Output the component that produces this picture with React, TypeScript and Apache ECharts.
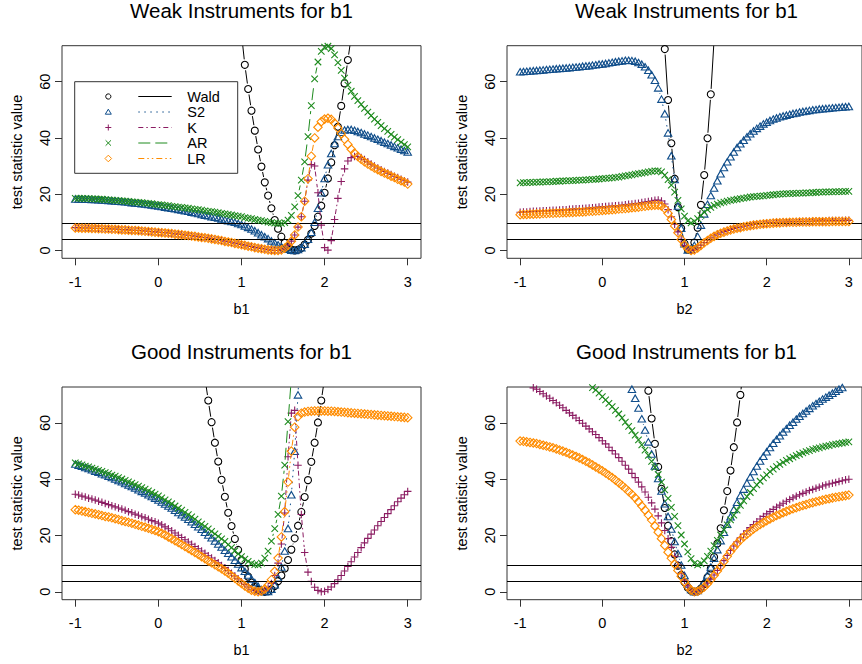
import React, { useEffect, useRef } from "react";
import * as echarts from "echarts";

// x grid (b values)
const X_GRID = [
  -1, -0.96, -0.92, -0.88, -0.84, -0.8, -0.76, -0.72, -0.68, -0.64,
  -0.6, -0.56, -0.52, -0.48, -0.44, -0.4, -0.36, -0.32, -0.28, -0.24,
  -0.2, -0.16, -0.12, -0.08, -0.04, 0, 0.04, 0.08, 0.12, 0.16,
  0.2, 0.24, 0.28, 0.32, 0.36, 0.4, 0.44, 0.48, 0.52, 0.56,
  0.6, 0.64, 0.68, 0.72, 0.76, 0.8, 0.84, 0.88, 0.92, 0.96,
  1, 1.04, 1.08, 1.12, 1.16, 1.2, 1.24, 1.28, 1.32, 1.36,
  1.4, 1.44, 1.48, 1.52, 1.56, 1.6, 1.64, 1.68, 1.72, 1.76,
  1.8, 1.84, 1.88, 1.92, 1.96, 2, 2.04, 2.08, 2.12, 2.16,
  2.2, 2.24, 2.28, 2.32, 2.36, 2.4, 2.44, 2.48, 2.52, 2.56,
  2.6, 2.64, 2.68, 2.72, 2.76, 2.8, 2.84, 2.88, 2.92, 2.96,
  3,
];

const X_TICKS = [-1, 0, 1, 2, 3];
const Y_TICKS = [0, 20, 40, 60];
const CRIT_LINES = [3.84, 9.49];
const SERIES_NAMES = ["Wald", "S2", "K", "AR", "LR"];
const TITLES = [
  "Weak Instruments for b1",
  "Weak Instruments for b1",
  "Good Instruments for b1",
  "Good Instruments for b1",
];
const X_NAMES = ["b1", "b2", "b1", "b2"];
const Y_NAME = "test statistic value";

const N = null;

// ---------- Panel 1: weak, b1 ----------
const W1_WALD = [
  N, N, N, N, N, N, N, N, N, N,
  N, N, N, N, N, N, N, N, N, N,
  N, N, N, N, N, N, N, N, N, N,
  N, N, N, N, N, N, N, N, N, N,
  N, N, N, N, N, N, N, N, N, N,
  77, 66, 57.4, 49.7, 42.6, 35.9, 29.8, 24.2, 19.5, 15.0,
  10.8, 7.7, 4.9, 2.7, 1.2, 0.3, 0.0, 0.2, 0.9, 2.1,
  3.8, 6.0, 8.7, 12.0, 15.9, 20.5, 25.6, 31.3, 37.4, 44.0,
  51.4, 59.4, 67.7, 76, N, N, N, N, N, N,
  N, N, N, N, N, N, N, N, N, N,
  N,
];
const W1_S2 = [
  18.3, 18.3, 18.3, 18.2, 18.2, 18.1, 18.1, 18.0, 17.9, 17.9,
  17.8, 17.7, 17.6, 17.5, 17.4, 17.3, 17.2, 17.0, 16.9, 16.8,
  16.6, 16.5, 16.3, 16.2, 16.0, 15.8, 15.6, 15.4, 15.2, 15.0,
  14.8, 14.6, 14.4, 14.1, 13.9, 13.6, 13.4, 13.1, 12.8, 12.5,
  12.3, 12.0, 11.8, 11.5, 11.2, 10.9, 10.6, 10.3, 10.0, 9.6,
  9.2, 8.7, 8.2, 7.6, 7.0, 6.3, 5.6, 4.9, 4.2, 3.4,
  2.7, 2.0, 1.4, 0.8, 0.4, 0.1, 0.0, 0.3, 1.0, 2.2,
  4.0, 6.5, 10.0, 15.0, 20.5, 25.6, 30.5, 34.5, 38.0, 40.5,
  42.0, 42.8, 43.0, 43.0, 42.7, 42.3, 41.9, 41.4, 41.0, 40.5,
  40.0, 39.5, 39.0, 38.5, 38.0, 37.5, 37.0, 36.5, 36.0, 35.5,
  35.0,
];
const W1_K = [
  8.1, 8.1, 8.0, 8.0, 8.0, 7.9, 7.9, 7.8, 7.8, 7.7,
  7.7, 7.6, 7.6, 7.5, 7.4, 7.4, 7.3, 7.2, 7.2, 7.1,
  7.0, 6.9, 6.8, 6.7, 6.6, 6.5, 6.4, 6.3, 6.2, 6.1,
  5.9, 5.8, 5.7, 5.5, 5.4, 5.2, 5.1, 4.9, 4.7, 4.6,
  4.4, 4.2, 4.0, 3.8, 3.6, 3.3, 3.1, 2.9, 2.6, 2.4,
  2.1, 1.9, 1.6, 1.4, 1.1, 0.9, 0.7, 0.5, 0.3, 0.1,
  0.0, 0.0, 0.2, 0.8, 1.8, 3.3, 5.5, 8.3, 12.0, 17.5,
  25.0, 30.5, 30.0, 20.5, 9.0, 1.0, 0.1, 3.5, 11.0, 18.5,
  24.5, 29.0, 31.8, 33.0, 33.4, 33.4, 33.0, 32.3, 31.5, 30.7,
  30.0, 29.3, 28.7, 28.1, 27.5, 27.0, 26.4, 25.9, 25.3, 24.8,
  24.3,
];
const W1_AR = [
  18.5, 18.5, 18.5, 18.4, 18.4, 18.3, 18.3, 18.2, 18.2, 18.1,
  18.0, 17.9, 17.8, 17.7, 17.6, 17.5, 17.4, 17.3, 17.2, 17.1,
  17.0, 16.8, 16.7, 16.6, 16.4, 16.3, 16.2, 16.0, 15.9, 15.7,
  15.6, 15.4, 15.3, 15.1, 15.0, 14.8, 14.6, 14.5, 14.3, 14.1,
  13.9, 13.8, 13.6, 13.4, 13.2, 13.0, 12.8, 12.6, 12.4, 12.2,
  12.0, 11.7, 11.5, 11.3, 11.0, 10.8, 10.6, 10.3, 10.1, 9.9,
  9.7, 9.6, 9.6, 9.9, 10.8, 12.5, 15.5, 19.5, 25.0, 31.5,
  40.5, 51.5, 61.0, 67.0, 70.8, 72.3, 72.6, 71.8, 69.5, 66.8,
  64.0, 61.3, 58.8, 56.6, 54.8, 53.3, 51.9, 50.5, 49.2, 47.9,
  46.7, 45.5, 44.4, 43.3, 42.3, 41.3, 40.3, 39.4, 38.5, 37.6,
  36.8,
];
const W1_LR = [
  8.0, 8.0, 7.9, 7.9, 7.9, 7.8, 7.8, 7.7, 7.7, 7.6,
  7.6, 7.5, 7.5, 7.4, 7.3, 7.3, 7.2, 7.1, 7.1, 7.0,
  6.9, 6.8, 6.7, 6.6, 6.5, 6.4, 6.3, 6.2, 6.1, 6.0,
  5.8, 5.7, 5.6, 5.4, 5.3, 5.1, 5.0, 4.8, 4.6, 4.5,
  4.3, 4.1, 3.9, 3.7, 3.5, 3.2, 3.0, 2.8, 2.5, 2.3,
  2.0, 1.8, 1.5, 1.3, 1.0, 0.8, 0.6, 0.4, 0.2, 0.1,
  0.0, 0.0, 0.2, 0.8, 1.8, 3.3, 5.5, 8.3, 12.0, 17.5,
  25.5, 33.5, 40.0, 43.8, 45.8, 46.7, 47.0, 46.6, 45.3, 43.5,
  41.5, 39.5, 37.7, 36.0, 34.6, 33.4, 32.4, 31.5, 30.7, 30.0,
  29.3, 28.7, 28.1, 27.5, 27.0, 26.4, 25.9, 25.3, 24.8, 24.3,
  23.6,
];

// ---------- Panel 2: weak, b2 ----------
const W2_WALD = [
  N, N, N, N, N, N, N, N, N, N,
  N, N, N, N, N, N, N, N, N, N,
  N, N, N, N, N, N, N, N, N, N,
  N, N, N, N, N, N, N, N, N, N,
  N, N, N, 92, 71.6, 53.5, 38.1, 25.5, 15.4, 7.9,
  2.5, 0.3, 0.3, 2.8, 8.1, 16.2, 26.8, 39.9, 55.5, 75,
  N, N, N, N, N, N, N, N, N, N,
  N, N, N, N, N, N, N, N, N, N,
  N, N, N, N, N, N, N, N, N, N,
  N, N, N, N, N, N, N, N, N, N,
  N,
];
const W2_S2 = [
  63.5, 63.6, 63.7, 63.8, 63.9, 64.0, 64.1, 64.2, 64.3, 64.4,
  64.5, 64.6, 64.7, 64.8, 64.9, 65.0, 65.1, 65.2, 65.3, 65.5,
  65.6, 65.7, 65.9, 66.0, 66.2, 66.3, 66.5, 66.7, 66.9, 67.1,
  67.3, 67.4, 67.6, 67.6, 67.5, 67.3, 66.8, 66.2, 65.3, 64.1,
  62.5, 60.5, 57.8, 53.8, 48.6, 41.8, 33.7, 25.2, 15.8, 7.9,
  2.4, 0.2, 0.5, 1.8, 5.0, 9.0, 13.0, 16.4, 19.5, 22.2,
  24.8, 27.3, 29.5, 31.5, 33.3, 35.0, 36.6, 37.9, 39.2, 40.4,
  41.5, 42.5, 43.4, 44.2, 45.0, 45.6, 46.2, 46.7, 47.1, 47.5,
  47.8, 48.1, 48.4, 48.7, 48.9, 49.2, 49.4, 49.6, 49.8, 50.0,
  50.1, 50.3, 50.4, 50.5, 50.6, 50.7, 50.8, 50.9, 51.0, 51.1,
  51.2,
];
const W2_K = [
  13.6, 13.7, 13.7, 13.8, 13.9, 13.9, 14.0, 14.1, 14.1, 14.2,
  14.3, 14.3, 14.4, 14.5, 14.5, 14.6, 14.7, 14.8, 14.8, 14.9,
  15.0, 15.1, 15.2, 15.3, 15.4, 15.5, 15.6, 15.7, 15.8, 15.9,
  16.0, 16.1, 16.2, 16.4, 16.5, 16.7, 16.8, 17.0, 17.2, 17.4,
  17.6, 17.8, 17.9, 17.6, 16.5, 14.5, 12.0, 9.3, 6.6, 4.0,
  1.8, 0.5, 0.0, 0.3, 1.0, 1.9, 2.8, 3.7, 4.5, 5.2,
  5.8, 6.3, 6.7, 7.1, 7.5, 7.8, 8.1, 8.3, 8.6, 8.8,
  9.0, 9.2, 9.3, 9.5, 9.6, 9.7, 9.8, 9.9, 10.0, 10.0,
  10.1, 10.1, 10.2, 10.2, 10.3, 10.3, 10.3, 10.4, 10.4, 10.4,
  10.5, 10.5, 10.5, 10.5, 10.6, 10.6, 10.6, 10.6, 10.6, 10.7,
  10.7,
];
const W2_AR = [
  24.0, 24.1, 24.1, 24.2, 24.2, 24.3, 24.3, 24.4, 24.4, 24.5,
  24.5, 24.6, 24.6, 24.7, 24.7, 24.8, 24.8, 24.9, 25.0, 25.0,
  25.1, 25.2, 25.3, 25.3, 25.4, 25.5, 25.6, 25.7, 25.8, 26.0,
  26.1, 26.3, 26.5, 26.7, 26.9, 27.1, 27.3, 27.5, 27.7, 27.9,
  28.1, 28.3, 28.3, 27.9, 26.8, 25.2, 23.2, 20.7, 17.8, 14.8,
  12.2, 10.5, 9.8, 10.3, 11.3, 12.5, 13.6, 14.5, 15.3, 16.0,
  16.5, 16.9, 17.2, 17.5, 17.8, 18.0, 18.2, 18.4, 18.6, 18.8,
  19.0, 19.1, 19.2, 19.3, 19.4, 19.6, 19.7, 19.8, 19.9, 20.0,
  20.1, 20.2, 20.2, 20.3, 20.3, 20.4, 20.4, 20.5, 20.5, 20.6,
  20.6, 20.7, 20.7, 20.8, 20.8, 20.8, 20.9, 20.9, 20.9, 21.0,
  21.0,
];
const W2_LR = [
  12.7, 12.8, 12.8, 12.9, 12.9, 13.0, 13.0, 13.1, 13.1, 13.2,
  13.2, 13.3, 13.3, 13.4, 13.4, 13.5, 13.5, 13.6, 13.7, 13.7,
  13.8, 13.9, 13.9, 14.0, 14.1, 14.2, 14.3, 14.4, 14.5, 14.6,
  14.7, 14.8, 14.9, 15.0, 15.2, 15.3, 15.4, 15.6, 15.7, 15.9,
  16.0, 16.1, 16.1, 15.8, 14.8, 13.2, 11.0, 8.7, 6.3, 3.9,
  1.9, 0.6, 0.0, 0.2, 0.9, 1.8, 2.7, 3.5, 4.3, 5.0,
  5.6, 6.1, 6.5, 6.9, 7.3, 7.6, 7.9, 8.1, 8.4, 8.6,
  8.8, 9.0, 9.1, 9.3, 9.4, 9.5, 9.6, 9.7, 9.8, 9.8,
  9.9, 9.9, 10.0, 10.0, 10.0, 10.1, 10.1, 10.1, 10.1, 10.2,
  10.2, 10.2, 10.2, 10.2, 10.2, 10.3, 10.3, 10.3, 10.3, 10.3,
  10.3,
];

// ---------- Panel 3: good, b1 ----------
const G1_WALD = [
  N, N, N, N, N, N, N, N, N, N,
  N, N, N, N, N, N, N, N, N, N,
  N, N, N, N, N, N, N, N, N, N,
  N, N, N, N, N, N, N, N, N, 76,
  68.0, 60.3, 53.0, 46.3, 39.8, 33.8, 28.1, 23.4, 18.8, 14.9,
  11.3, 8.1, 5.4, 3.3, 1.7, 0.7, 0.2, 0.0, 0.2, 0.9,
  2.1, 3.8, 5.8, 8.3, 11.3, 15.0, 19.0, 23.5, 28.4, 33.7,
  39.7, 46.2, 53.0, 60.2, 68.0, 76, N, N, N, N,
  N, N, N, N, N, N, N, N, N, N,
  N, N, N, N, N, N, N, N, N, N,
  N,
];
const G1_S2 = [
  45.4, 45.0, 44.6, 44.2, 43.8, 43.4, 42.9, 42.5, 42.0, 41.6,
  41.1, 40.6, 40.1, 39.6, 39.1, 38.5, 38.0, 37.4, 36.9, 36.3,
  35.7, 35.1, 34.5, 33.9, 33.3, 32.6, 31.9, 31.2, 30.5, 29.8,
  29.0, 28.2, 27.4, 26.6, 25.8, 24.9, 24.0, 23.1, 22.2, 21.2,
  20.2, 19.2, 18.1, 17.0, 15.9, 14.8, 13.7, 12.5, 11.2, 9.9,
  8.6, 7.3, 6.0, 4.6, 3.3, 2.0, 0.8, 0.1, 0.1, 0.9,
  2.5, 5.0, 8.8, 14.5, 22.5, 34.5, 50.0, 70.0, 95, N,
  N, N, N, N, N, N, N, N, N, N,
  N, N, N, N, N, N, N, N, N, N,
  N, N, N, N, N, N, N, N, N, N,
  N,
];
const G1_K = [
  34.7, 34.4, 34.0, 33.7, 33.3, 33.0, 32.6, 32.2, 31.8, 31.4,
  31.0, 30.6, 30.2, 29.8, 29.4, 29.0, 28.5, 28.1, 27.6, 27.2,
  26.7, 26.3, 25.8, 25.3, 24.9, 24.4, 23.8, 23.1, 22.4, 21.7,
  20.9, 20.1, 19.3, 18.5, 17.7, 16.9, 16.1, 15.3, 14.5, 13.7,
  12.8, 12.0, 11.1, 10.3, 9.4, 8.6, 7.6, 6.6, 5.6, 4.6,
  3.6, 2.6, 1.7, 0.9, 0.4, 0.1, 0.1, 0.5, 1.4, 3.0,
  5.8, 10.2, 17.0, 28.0, 48.0, 63.5, 64.5, 45.0, 27.5, 14.0,
  7.0, 3.7, 1.6, 0.5, 0.0, 0.2, 0.8, 1.7, 2.9, 4.3,
  5.8, 7.4, 9.0, 10.7, 12.4, 14.0, 15.7, 17.4, 19.0, 20.5,
  22.0, 23.5, 25.0, 26.4, 27.8, 29.2, 30.6, 32.0, 33.3, 34.5,
  35.7,
];
const G1_AR = [
  45.8, 45.5, 45.1, 44.7, 44.4, 44.0, 43.6, 43.2, 42.8, 42.4,
  42.0, 41.5, 41.1, 40.6, 40.1, 39.6, 39.1, 38.6, 38.1, 37.6,
  37.0, 36.5, 35.9, 35.3, 34.7, 34.1, 33.4, 32.7, 32.0, 31.3,
  30.5, 29.7, 29.0, 28.2, 27.4, 26.6, 25.8, 24.9, 24.1, 23.3,
  22.4, 21.5, 20.6, 19.7, 18.8, 17.9, 16.8, 15.7, 14.6, 13.5,
  12.5, 11.6, 10.8, 10.1, 9.7, 9.6, 10.2, 12.0, 14.5, 18.0,
  22.5, 27.5, 34.0, 45.0, 60.5, 76, N, N, N, N,
  N, N, N, N, N, N, N, N, N, N,
  N, N, N, N, N, N, N, N, N, N,
  N, N, N, N, N, N, N, N, N, N,
  N,
];
const G1_LR = [
  29.2, 29.0, 28.7, 28.5, 28.2, 27.9, 27.7, 27.4, 27.1, 26.8,
  26.6, 26.3, 26.0, 25.7, 25.3, 25.0, 24.7, 24.4, 24.0, 23.7,
  23.3, 23.0, 22.6, 22.2, 21.8, 21.4, 20.8, 20.2, 19.5, 18.9,
  18.2, 17.5, 16.8, 16.1, 15.4, 14.7, 14.0, 13.3, 12.5, 11.8,
  11.0, 10.3, 9.6, 8.9, 8.2, 7.4, 6.6, 5.7, 4.8, 3.9,
  3.0, 2.1, 1.3, 0.6, 0.2, 0.0, 0.3, 1.0, 2.3, 4.3,
  7.3, 12.0, 19.5, 28.5, 39.0, 50.0, 58.5, 62.3, 63.5, 63.9,
  64.1, 64.2, 64.3, 64.3, 64.3, 64.3, 64.2, 64.2, 64.1, 64.0,
  63.9, 63.8, 63.7, 63.6, 63.5, 63.4, 63.3, 63.2, 63.1, 63.0,
  62.9, 62.8, 62.7, 62.6, 62.5, 62.4, 62.3, 62.2, 62.1, 62.0,
  61.9,
];

// ---------- Panel 4: good, b2 ----------
const G2_WALD = [
  N, N, N, N, N, N, N, N, N, N,
  N, N, N, N, N, N, N, N, N, N,
  N, N, N, N, N, N, N, N, N, N,
  N, N, N, N, N, N, N, N, 80, 71.5,
  61.6, 52.6, 44.4, 36.6, 29.8, 23.5, 18.0, 13.3, 9.3, 6.0,
  3.4, 1.5, 0.4, 0.0, 0.3, 1.2, 2.8, 5.2, 8.3, 12.4,
  17.2, 22.6, 29.0, 35.8, 43.1, 51.4, 60.2, 70.0, 80, N,
  N, N, N, N, N, N, N, N, N, N,
  N, N, N, N, N, N, N, N, N, N,
  N, N, N, N, N, N, N, N, N, N,
  N,
];
const G2_S2 = [
  N, N, N, N, N, N, N, N, N, N,
  N, N, N, N, N, N, N, N, N, N,
  N, N, N, N, N, N, N, N, N, N,
  N, N, N, 76, 72.0, 68.8, 65.3, 61.5, 57.5, 53.3,
  49.0, 44.7, 40.3, 35.8, 31.3, 26.8, 22.3, 17.9, 13.6, 9.5,
  5.8, 2.8, 0.8, 0.0, 0.5, 1.7, 3.6, 6.0, 8.8, 11.9,
  15.0, 18.2, 21.2, 24.0, 26.7, 29.3, 31.8, 34.2, 36.5, 38.7,
  40.8, 42.8, 44.7, 46.5, 48.2, 49.8, 51.3, 52.8, 54.2, 55.5,
  56.8, 58.0, 59.2, 60.3, 61.4, 62.4, 63.4, 64.3, 65.2, 66.1,
  66.9, 67.7, 68.5, 69.2, 69.9, 70.6, 71.3, 72.0, 72.6, 73.3,
  74.0,
];
const G2_K = [
  N, N, N, 75.0, 72.5, 72.0, 71.2, 70.4, 69.6, 68.8,
  68.0, 67.2, 66.3, 65.4, 64.5, 63.6, 62.7, 61.8, 60.9, 59.9,
  58.9, 57.9, 56.9, 55.9, 54.8, 53.7, 52.6, 51.4, 50.2, 49.0,
  47.7, 46.4, 45.0, 43.6, 42.1, 40.6, 39.0, 37.3, 35.5, 33.6,
  31.6, 29.4, 27.0, 24.5, 21.8, 18.9, 15.8, 12.6, 9.5, 6.6,
  4.1, 2.1, 0.7, 0.0, 0.2, 0.9, 1.9, 3.1, 4.5, 6.0,
  7.6, 9.3, 11.1, 12.9, 14.7, 16.3, 17.8, 19.2, 20.5, 21.7,
  22.8, 23.9, 24.9, 25.9, 26.8, 27.7, 28.5, 29.3, 30.1, 30.8,
  31.5, 32.2, 32.8, 33.4, 34.0, 34.5, 35.0, 35.5, 36.0, 36.4,
  36.8, 37.2, 37.6, 38.0, 38.3, 38.6, 38.9, 39.2, 39.5, 39.8,
  40.0,
];
const G2_AR = [
  N, N, N, N, N, N, N, N, N, N,
  N, N, N, N, N, N, N, N, N, N,
  N, 75.0, 72.6, 71.8, 70.6, 69.4, 68.2, 67.0, 65.8, 64.5,
  63.2, 61.8, 60.3, 58.8, 57.3, 55.7, 54.0, 52.2, 50.4, 48.5,
  46.4, 44.2, 41.7, 39.0, 36.2, 33.2, 30.0, 26.8, 23.5, 20.2,
  17.0, 14.2, 11.8, 10.1, 9.6, 10.0, 11.0, 12.6, 14.5, 16.4,
  18.3, 20.2, 22.0, 23.8, 25.6, 27.3, 29.0, 30.7, 32.3, 33.8,
  35.3, 36.7, 38.0, 39.3, 40.5, 41.6, 42.7, 43.6, 44.5, 45.3,
  46.0, 46.7, 47.3, 47.9, 48.4, 48.9, 49.4, 49.8, 50.2, 50.6,
  50.9, 51.2, 51.5, 51.8, 52.0, 52.3, 52.5, 52.7, 52.9, 53.1,
  53.3,
];
const G2_LR = [
  53.6, 53.5, 53.3, 53.1, 52.9, 52.7, 52.4, 52.1, 51.8, 51.5,
  51.2, 50.8, 50.4, 50.0, 49.6, 49.1, 48.6, 48.1, 47.6, 47.0,
  46.4, 45.8, 45.1, 44.4, 43.7, 43.0, 42.2, 41.4, 40.6, 39.7,
  38.8, 37.8, 36.8, 35.7, 34.6, 33.4, 32.0, 30.5, 29.0, 27.3,
  25.5, 23.4, 21.2, 18.9, 16.5, 14.1, 11.9, 9.8, 7.6, 5.5,
  3.5, 1.8, 0.6, 0.0, 0.2, 0.8, 1.7, 2.9, 4.3, 5.8,
  7.4, 9.0, 10.8, 12.6, 14.3, 15.8, 17.2, 18.4, 19.5, 20.5,
  21.4, 22.3, 23.1, 23.9, 24.6, 25.3, 25.9, 26.5, 27.1, 27.6,
  28.1, 28.6, 29.1, 29.5, 29.9, 30.3, 30.7, 31.0, 31.4, 31.7,
  32.0, 32.3, 32.6, 32.9, 33.1, 33.4, 33.6, 33.8, 34.0, 34.2,
  34.4,
];

const PANEL_DATA = [
  [W1_WALD, W1_S2, W1_K, W1_AR, W1_LR],
  [W2_WALD, W2_S2, W2_K, W2_AR, W2_LR],
  [G1_WALD, G1_S2, G1_K, G1_AR, G1_LR],
  [G2_WALD, G2_S2, G2_K, G2_AR, G2_LR],
];

const FONT = '"Liberation Sans", Arial, Helvetica, sans-serif';
const AXIS_FS = 14.5;

const GRIDS = [
  { left: 62, top: 45.7, width: 359, height: 212.6 },
  { left: 507, top: 45.7, width: 359, height: 212.6 },
  { left: 62, top: 387, width: 359, height: 212.7 },
  { left: 507, top: 387, width: 359, height: 212.7 },
];
const TITLE_POS = [
  [241.5, 10.5],
  [686.5, 10.5],
  [241.5, 351.2],
  [686.5, 351.2],
];

const STYLES: any[] = [
  { color: "#000000", symbol: "circle", size: 7, dash: null },
  { color: "#104E8B", symbol: "triangle", size: [7.5, 6.5], dash: [1.5, 4.5] },
  { color: "#8B1C62", symbol: "path://M0,5L10,5M5,0L5,10", size: 7.5, dash: [5, 3, 1.5, 3] },
  { color: "#1E8B1E", symbol: "path://M0,0L10,10M10,0L0,10", size: 6.5, dash: [12, 5] },
  { color: "#FF8C00", symbol: "diamond", size: 8.5, dash: [6, 3, 1.5, 3, 1.5, 3] },
];

// gap (px) left between a point and the line joining it to its neighbour (R type = "b")
const GAP = 5.5;

function makeSegmentRenderer(color: string, dash: number[] | null) {
  return (_params: any, api: any) => {
    const p0 = api.coord([api.value(0), api.value(1)]);
    const p1 = api.coord([api.value(2), api.value(3)]);
    const dx = p1[0] - p0[0];
    const dy = p1[1] - p0[1];
    const len = Math.sqrt(dx * dx + dy * dy);
    if (!(len > 2 * GAP)) return null;
    const ux = dx / len;
    const uy = dy / len;
    return {
      type: "line",
      shape: {
        x1: p0[0] + ux * GAP,
        y1: p0[1] + uy * GAP,
        x2: p1[0] - ux * GAP,
        y2: p1[1] - uy * GAP,
      },
      style: { stroke: color, lineWidth: 1, lineDash: dash, fill: null },
    };
  };
}

function buildOption() {
  const xAxis: any[] = [];
  const yAxis: any[] = [];
  const series: any[] = [];
  const graphic: any[] = [];

  GRIDS.forEach((_, i) => {
    xAxis.push({
      gridIndex: i,
      type: "value",
      min: -1.16,
      max: 3.16,
      name: X_NAMES[i],
      nameLocation: "middle",
      nameGap: 43,
      nameTextStyle: { fontSize: AXIS_FS, color: "#000", fontFamily: FONT },
      axisLine: { show: false, onZero: false },
      axisTick: { show: true, length: 7, lineStyle: { color: "#333" }, customValues: X_TICKS },
      axisLabel: { customValues: X_TICKS, margin: 16, fontSize: AXIS_FS, color: "#000", fontFamily: FONT },
      splitLine: { show: false },
    });
    yAxis.push({
      gridIndex: i,
      type: "value",
      min: -2.8,
      max: 72.8,
      name: Y_NAME,
      nameLocation: "middle",
      nameRotate: 90,
      nameGap: 38,
      nameTextStyle: { fontSize: AXIS_FS, color: "#000", fontFamily: FONT },
      axisLine: { show: false, onZero: false },
      axisTick: { show: true, length: 7, lineStyle: { color: "#333" }, customValues: Y_TICKS },
      axisLabel: { customValues: Y_TICKS, rotate: 90, margin: 10, fontSize: AXIS_FS, color: "#000", fontFamily: FONT },
      splitLine: { show: false },
    });

    PANEL_DATA[i].forEach((ys, s) => {
      const st = STYLES[s];
      const segs: number[][] = [];
      for (let k = 0; k < X_GRID.length - 1; k++) {
        const a = ys[k];
        const b = ys[k + 1];
        if (a !== null && b !== null) segs.push([X_GRID[k], a as number, X_GRID[k + 1], b as number]);
      }
      series.push({
        type: "custom",
        name: SERIES_NAMES[s] + " line",
        xAxisIndex: i,
        yAxisIndex: i,
        data: segs,
        encode: { x: [0, 2], y: [1, 3] },
        renderItem: makeSegmentRenderer(st.color, st.dash),
        clip: true,
        silent: true,
        z: 2 + s,
      });

      const pts: number[][] = [];
      X_GRID.forEach((x, k) => {
        const v = ys[k];
        if (v !== null) pts.push([x, v as number]);
      });
      const item: any = {
        type: "scatter",
        name: SERIES_NAMES[s],
        xAxisIndex: i,
        yAxisIndex: i,
        data: pts,
        symbol: st.symbol,
        symbolSize: st.size,
        clip: true,
        silent: true,
        itemStyle: { color: "rgba(0,0,0,0)", borderColor: st.color, borderWidth: 1.1, opacity: 1 },
        emphasis: { disabled: true },
        z: 2 + s,
      };
      if (s === 4) {
        item.markLine = {
          silent: true,
          symbol: "none",
          label: { show: false },
          lineStyle: { color: "#000", type: "solid", width: 1 },
          emphasis: { disabled: true },
          data: CRIT_LINES.map((v) => ({ yAxis: v })),
        };
      }
      series.push(item);
    });

    graphic.push({
      type: "text",
      x: TITLE_POS[i][0],
      y: TITLE_POS[i][1],
      z: 20,
      style: {
        text: TITLES[i],
        align: "center",
        verticalAlign: "middle",
        fontSize: 20.5,
        fontFamily: FONT,
        fill: "#000",
      },
    });
  });

  // legend (panel 1)
  const LX = 108.3;
  const L1 = 138.3;
  const L2 = 171.7;
  const TX = 187.3;
  const rowY = [96.5, 112, 127.5, 143, 158.5];
  const legendChildren: any[] = [
    {
      type: "rect",
      shape: { x: 74.7, y: 81.7, width: 163, height: 91.6 },
      style: { fill: "none", stroke: "#333", lineWidth: 1 },
    },
  ];
  SERIES_NAMES.forEach((name, s) => {
    const st = STYLES[s];
    const y = rowY[s];
    const stroke = { fill: "none", stroke: st.color, lineWidth: 1 };
    if (s === 0) {
      legendChildren.push({ type: "circle", shape: { cx: LX, cy: y, r: 2.6 }, style: stroke });
    } else if (s === 1) {
      legendChildren.push({
        type: "polygon",
        shape: { points: [[LX, y - 2.8], [LX + 3, y + 2.2], [LX - 3, y + 2.2]] },
        style: stroke,
      });
    } else if (s === 2) {
      legendChildren.push({ type: "line", shape: { x1: LX - 3, y1: y, x2: LX + 3, y2: y }, style: stroke });
      legendChildren.push({ type: "line", shape: { x1: LX, y1: y - 3, x2: LX, y2: y + 3 }, style: stroke });
    } else if (s === 3) {
      legendChildren.push({ type: "line", shape: { x1: LX - 2.7, y1: y - 2.7, x2: LX + 2.7, y2: y + 2.7 }, style: stroke });
      legendChildren.push({ type: "line", shape: { x1: LX - 2.7, y1: y + 2.7, x2: LX + 2.7, y2: y - 2.7 }, style: stroke });
    } else {
      legendChildren.push({
        type: "polygon",
        shape: { points: [[LX, y - 3.3], [LX + 3.3, y], [LX, y + 3.3], [LX - 3.3, y]] },
        style: stroke,
      });
    }
    legendChildren.push({
      type: "line",
      shape: { x1: L1, y1: y, x2: L2, y2: y },
      style: { stroke: st.color, lineWidth: 1, lineDash: st.dash },
    });
    legendChildren.push({
      type: "text",
      x: TX,
      y: y,
      style: { text: name, align: "left", verticalAlign: "middle", fontSize: AXIS_FS, fontFamily: FONT, fill: "#000" },
    });
  });
  graphic.push({ type: "group", z: 20, children: legendChildren });

  return {
    animation: false,
    backgroundColor: "#ffffff",
    textStyle: { fontFamily: FONT },
    grid: GRIDS.map((g) => ({ ...g, show: true, borderColor: "#333", borderWidth: 1, backgroundColor: "transparent", containLabel: false })),
    xAxis,
    yAxis,
    series,
    graphic,
  };
}

export default function App() {
  const ref = useRef<HTMLDivElement>(null);
  useEffect(() => {
    if (!ref.current) return;
    const chart = echarts.init(ref.current, undefined, { renderer: "svg" });
    chart.setOption(buildOption() as any);
    return () => chart.dispose();
  }, []);
  return (
    <div
      ref={ref}
      style={{ position: "absolute", left: 0, top: 0, width: 862, height: 664, background: "#fff" }}
    />
  );
}
